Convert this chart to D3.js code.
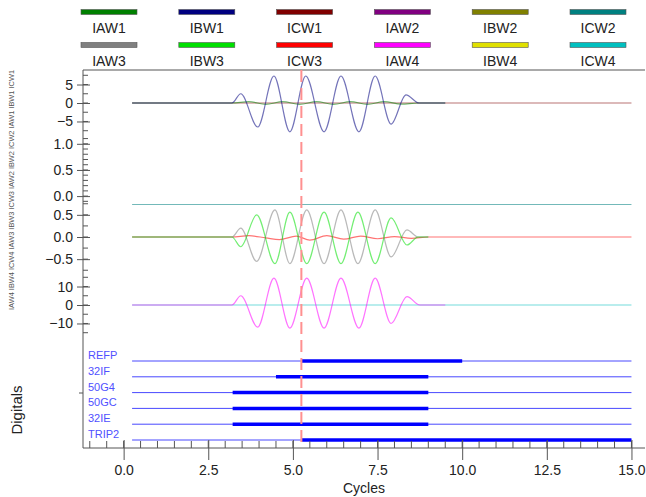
<!DOCTYPE html>
<html><head><meta charset="utf-8">
<script src="https://cdn.jsdelivr.net/npm/d3@7"></script>
<style>body{margin:0;background:#fff;}svg{display:block;font-family:"Liberation Sans",Arial,sans-serif;}</style>
</head><body><svg id="c" width="646" height="497"></svg>
<script>
// ---------- data ----------
const legendNames = ["IAW1","IBW1","ICW1","IAW2","IBW2","ICW2","IAW3","IBW3","ICW3","IAW4","IBW4","ICW4"];
const legendColors = ["#008000","#000080","#800000","#800080","#808000","#008080","#808080","#00e000","#ff0000","#ff00ff","#e0e000","#00c0c0"];
const xTicks = [0, 2.5, 5, 7.5, 10, 12.5, 15];
const cursorT = 5.25;

// panel 1 (IAW1 IBW1 ICW1) : [cycle, value]
const iaw1 = [[0.25,0],[3.2,0],[3.7,0.35],[4.2,-0.35],[4.7,0.35],[5.2,-0.35],[5.7,0.35],[6.2,-0.35],[6.7,0.35],[7.2,-0.35],[7.7,0.35],[8.2,-0.3],[8.7,0],[9.5,0]];
const ibw1 = [[0.25,0],[3.2,0],[3.46,2.5],[3.96,-6.5],[4.44,7.3],[4.91,-7.8],[5.38,7.3],[5.92,-7.8],[6.42,7.3],[6.95,-7.8],[7.43,7.3],[7.9,-5.7],[8.34,2.2],[8.73,0],[9.5,0]];
const icw1 = [[0.25,0],[15,0]];
// panel 2 (IAW2 IBW2 ICW2)
const icw2 = [[0.25,-0.16],[15,-0.16]];
// panel 3 (IAW3 IBW3 ICW3)
const iaw3 = [[0.25,0],[3.2,0],[3.46,0.2],[3.93,-0.55],[4.47,0.61],[4.91,-0.6],[5.41,0.61],[5.92,-0.6],[6.42,0.61],[6.92,-0.6],[7.43,0.61],[7.9,-0.45],[8.37,0.16],[8.7,0],[9.0,0]];
const ibw3 = [[0.25,0],[3.2,0],[3.46,-0.22],[3.93,0.5],[4.47,-0.6],[4.91,0.56],[5.41,-0.6],[5.92,0.56],[6.42,-0.6],[6.92,0.56],[7.43,-0.6],[7.9,0.43],[8.37,-0.18],[8.7,0],[9.0,0]];
const icw3 = [[0.25,0],[3.2,0],[3.7,0.03],[4.2,-0.02],[4.6,-0.06],[5.1,0.02],[5.5,-0.07],[6.0,0.03],[6.5,-0.05],[7.0,0.02],[7.5,-0.04],[8.0,0.01],[8.5,-0.03],[9.0,0],[15,0]];
// panel 4 (IAW4 IBW4 ICW4)
const iaw4 = [[0.25,0],[3.2,0],[3.46,5],[3.96,-12],[4.44,14.5],[4.91,-12.5],[5.41,14.5],[5.92,-12.5],[6.42,14.5],[6.95,-12.5],[7.43,14.5],[7.9,-10],[8.37,4.5],[8.75,0],[9.5,0]];
const icw4 = [[0.25,0],[15,0]];

// digitals
const digNames = ["REFP","32IF","50G4","50GC","32IE","TRIP2"];
const digOn = [5.25, 4.5, 3.22, 3.22, 3.22, 5.25];
const digOff = [10, 9, 9, 9, 9, 15];
const digSpan = [0.25, 15];

// ---------- layout ----------
const svg = d3.select("#c");
const L = 83, R = 645, T = 70, B = 448;
const x = d3.scaleLinear().domain([-1.2, 15.4]).range([L, R]);

const panels = [
  {range:[137,69], domain:[-9.2,9.2], major:[-5,0,5], minorStep:2.5, fmt:d3.format("d"),
   series:[[icw1,2],[iaw1,0],[ibw1,1]]},
  {range:[205,137], domain:[-0.17,1.13], major:[0,0.5,1], minorStep:0.1, fmt:d3.format(".1f"),
   series:[[icw2,5]]},
  {range:[271,203], domain:[-0.767,0.767], major:[-0.5,0,0.5], minorStep:0.25, fmt:d3.format(".1f"),
   series:[[icw3,8],[iaw3,6],[ibw3,7]]},
  {range:[339,271], domain:[-18.4,18.4], major:[-10,0,10], minorStep:5, fmt:d3.format("d"),
   series:[[icw4,11],[iaw4,9]]}
];

// legend
const legX0 = 109, legDX = 97.8;
legendNames.forEach((n,i)=>{
  const col = i%6, row = Math.floor(i/6);
  const cx = legX0 + col*legDX, y0 = 12 + row*33;
  svg.append("rect").attr("x",cx-28).attr("y",y0-2.5).attr("width",56).attr("height",5)
    .attr("fill",legendColors[i]).attr("stroke","#555").attr("stroke-width",0.6);
  svg.append("text").attr("x",cx).attr("y",y0+21).attr("text-anchor","middle")
    .attr("font-size",14).attr("fill","#222").text(n);
});

// frame
svg.append("line").attr("x1",L).attr("x2",R).attr("y1",T).attr("y2",T).attr("stroke","#555").attr("stroke-width",1);
svg.append("line").attr("x1",L).attr("x2",L).attr("y1",T).attr("y2",B).attr("stroke","#555").attr("stroke-width",1);

// panels
panels.forEach(p=>{
  const y = d3.scaleLinear().domain(p.domain).range(p.range);
  const g = svg.append("g");
  // minor ticks
  const lo = Math.ceil(p.domain[0]/p.minorStep - 1e-9), hi = Math.floor(p.domain[1]/p.minorStep + 1e-9);
  for(let k=lo;k<=hi;k++){
    const v = k*p.minorStep;
    g.append("line").attr("x1",L).attr("x2",L+5).attr("y1",y(v)).attr("y2",y(v)).attr("stroke","#555");
  }
  const ax = d3.axisLeft(y).tickValues(p.major).tickFormat(p.fmt).tickSize(6).tickPadding(4);
  const ag = g.append("g").attr("transform",`translate(${L},0)`).call(ax);
  ag.select(".domain").remove();
  ag.selectAll(".tick line").attr("x2",-6).attr("x1",7).attr("stroke","#555");
  ag.selectAll("text").attr("font-size",14).attr("fill","#222").attr("font-family","Liberation Sans, Arial, sans-serif");
  const line = d3.line().x(d=>x(d[0])).y(d=>y(d[1])).curve(d3.curveMonotoneX);
  p.series.forEach(([data,ci])=>{
    g.append("path").attr("d",line(data)).attr("fill","none")
      .attr("stroke",legendColors[ci]).attr("stroke-opacity",0.55).attr("stroke-width",1.2);
  });
});

// digitals
const yd = d3.scalePoint().domain(digNames).range([361,440]);
digNames.forEach((n,i)=>{
  const yy = yd(n);
  svg.append("line").attr("x1",x(digSpan[0])).attr("x2",x(digSpan[1])).attr("y1",yy).attr("y2",yy)
    .attr("stroke","#4848ff").attr("stroke-width",1);
  svg.append("line").attr("x1",x(digOn[i])).attr("x2",x(digOff[i])).attr("y1",yy).attr("y2",yy)
    .attr("stroke","#0000ff").attr("stroke-width",3.5);
  svg.append("text").attr("x",88).attr("y",yy-2).attr("font-size",11).attr("fill","#5050ff").text(n);
});
svg.append("line").attr("x1",L-4).attr("x2",L).attr("y1",393).attr("y2",393).attr("stroke","#555");

// x axis
svg.append("line").attr("x1",L).attr("x2",R).attr("y1",B).attr("y2",B).attr("stroke","#555");
for(let v=-1; v<=15.001; v+=0.5){
  svg.append("line").attr("x1",x(v)).attr("x2",x(v)).attr("y1",B).attr("y2",B-7).attr("stroke","#555");
}
const xa = d3.axisBottom(x).tickValues(xTicks).tickFormat(d3.format(".1f")).tickSize(12).tickPadding(5);
const xg = svg.append("g").attr("transform",`translate(0,${B})`).call(xa);
xg.select(".domain").remove();
xg.selectAll(".tick line").attr("y1",-8).attr("stroke","#555");
xg.selectAll("text").attr("font-size",14).attr("fill","#222").attr("font-family","Liberation Sans, Arial, sans-serif");
svg.append("text").attr("x",364).attr("y",493).attr("text-anchor","middle").attr("font-size",14).attr("fill","#222").text("Cycles");

// cursor
svg.append("line").attr("x1",x(cursorT)).attr("x2",x(cursorT)).attr("y1",T).attr("y2",B)
  .attr("stroke","#ff9090").attr("stroke-width",2).attr("stroke-dasharray","12,6");

// side labels
svg.append("text").attr("transform","translate(14,190) rotate(-90)").attr("text-anchor","middle")
  .attr("font-size",7.5).attr("fill","#555").attr("textLength",240).attr("lengthAdjust","spacingAndGlyphs")
  .text("IAW4 IBW4 ICW4 IAW3 IBW3 ICW3 IAW2 IBW2 ICW2 IAW1 IBW1 ICW1");
svg.append("text").attr("transform","translate(22,410) rotate(-90)").attr("text-anchor","middle")
  .attr("font-size",15).attr("fill","#222").text("Digitals");
</script></body></html>
